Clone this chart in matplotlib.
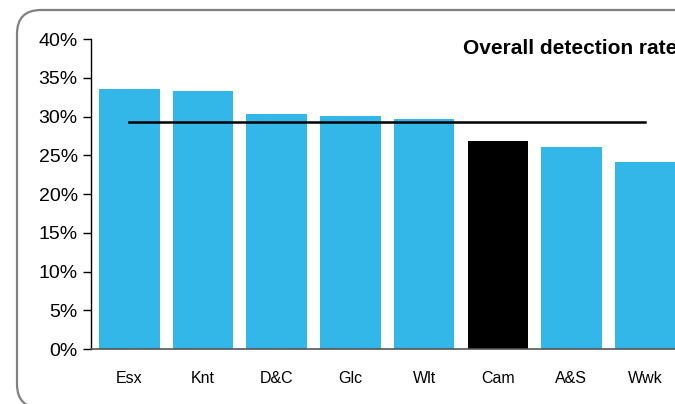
import matplotlib.pyplot as plt
from matplotlib.patches import FancyBboxPatch
from matplotlib.transforms import IdentityTransform
from matplotlib.ticker import PercentFormatter

areas = ['Esx', 'Knt', 'D&C', 'Glc', 'Wlt', 'Cam', 'A&S', 'Wwk']
rates = [33.5, 33.3, 30.3, 30.1, 29.7, 26.8, 26.1, 24.1]
overall = 29.3
highlight = 'Cam'

plt.rcParams['font.family'] = ['Liberation Sans', 'DejaVu Sans']

fig = plt.figure(figsize=(6.75, 4.04), dpi=100)
ax = fig.add_axes([0.1348, 0.1361, 0.881, 0.7673])

colors = ['black' if a == highlight else '#33B7E8' for a in areas]
x = range(len(areas))
ax.bar(x, rates, width=0.82, color=colors, zorder=2)
ax.plot([0, len(areas) - 1], [overall, overall], color='black', lw=1.8, zorder=3)

ax.set_ylim(0, 40)
ax.set_xlim(-0.52, 7.55)
ax.set_yticks(range(0, 41, 5))
ax.yaxis.set_major_formatter(PercentFormatter(decimals=0))
ax.tick_params(axis='y', labelsize=14, length=6, width=1, direction='out')
ax.set_xticks(list(x))
ax.set_xticklabels(areas, fontsize=11.5)
ax.tick_params(axis='x', length=0, pad=16)

for s in ['top', 'right']:
    ax.spines[s].set_visible(False)
ax.spines['left'].set_linewidth(1)
ax.spines['bottom'].set_color('#555555')
ax.spines['bottom'].set_linewidth(1.2)

fig.text(463 / 675, 1 - 49 / 404, 'Overall detection rate', fontsize=15,
         fontweight='bold', ha='left', va='center')

# rounded frame around the chart (runs off the right and bottom edges)
frame = FancyBboxPatch((17, -4), 900, 398, boxstyle='round,pad=0,rounding_size=24',
                       transform=IdentityTransform(), fill=False,
                       edgecolor='#808080', lw=1.6, clip_on=False)
fig.patches.append(frame)

fig.savefig('out.png', dpi=100)
